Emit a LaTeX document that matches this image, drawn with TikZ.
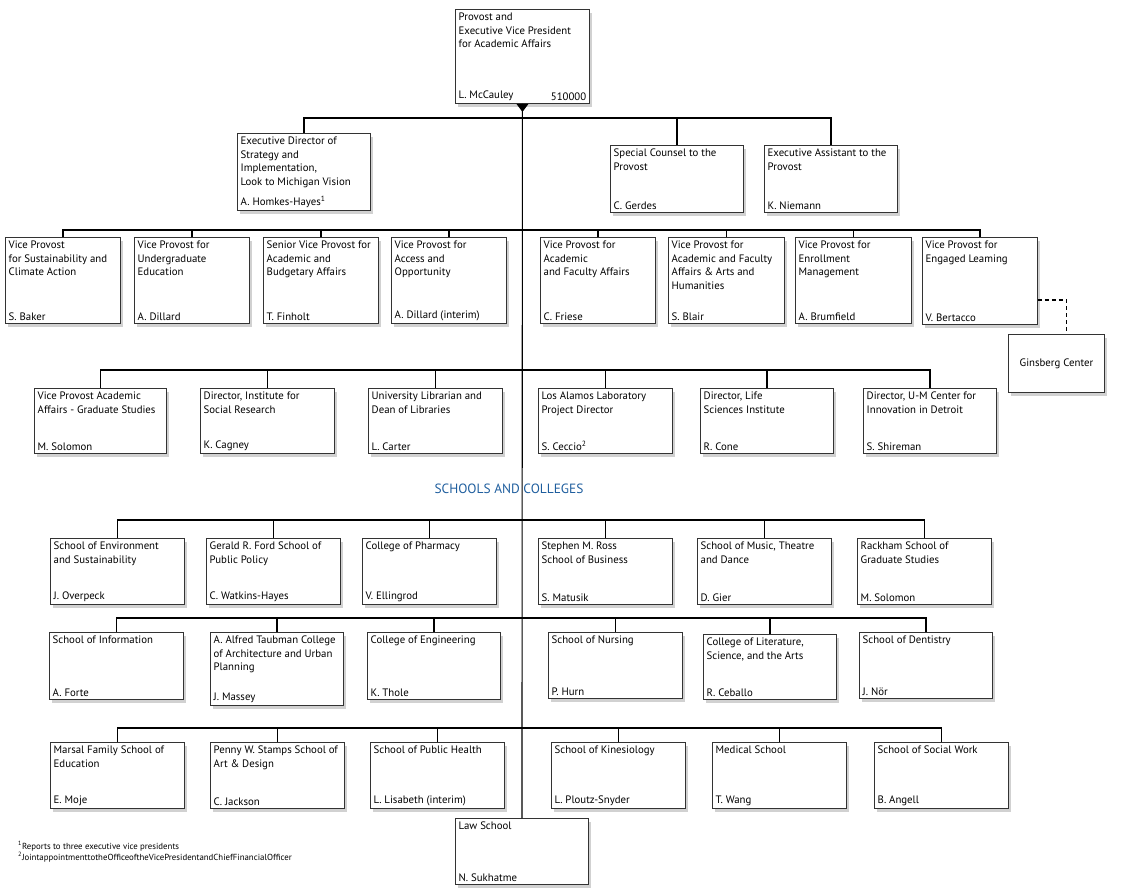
\documentclass[tikz,border=0pt]{standalone}
\usepackage{fontspec}
\setmainfont{PT Sans}
\usetikzlibrary{positioning,shadows}

\definecolor{ublue}{HTML}{1F5E9E}

\newcommand{\orgbox}[7]{%
  \node[unitbox, minimum width=#4, minimum height=#5, anchor=north west] (#1) at (#2,#3) {};
  \node[titletext, anchor=north west] (#1-t) at (#1.north west) {#6};
  \node[nametext, anchor=south west] (#1-n) at (#1.south west) {#7};
}

\begin{document}
\begin{tikzpicture}[x=1pt, y=-1pt,
    unitbox/.style={draw=black!80, line width=0.9pt, fill=white, inner sep=0pt,
      drop shadow={shadow xshift=3pt, shadow yshift=-4pt, fill=black!40, opacity=0.45}},
    titletext/.style={align=left, inner sep=3.5pt, font=\fontsize{10.8}{13.8}\selectfont},
    nametext/.style={inner xsep=3.5pt, inner ysep=3pt, font=\fontsize{10.8}{13.8}\selectfont},
    conn/.style={line width=1.1pt, black}]
\useasboundingbox (0,0) rectangle (1136,892);

\node[unitbox, minimum width=134, minimum height=94, anchor=north west] (top) at (455,9) {};
\node[titletext, anchor=north west] (top-t) at (top.north west) {Provost and\\Executive Vice President\\for Academic Affairs};
\node[nametext, anchor=south west] (top-n) at (top.south west) {L. McCauley};
\node[nametext, anchor=south east] (top-no) at (top.south east) {510000};

\orgbox{ed}{237}{133}{133}{77}{Executive Director of\\Strategy and\\Implementation,\\Look to Michigan Vision}{A. Homkes-Hayes\textsuperscript{1}}
\orgbox{sc}{610}{145}{133}{67}{Special Counsel to the\\Provost}{C. Gerdes}
\orgbox{ea}{764}{145}{133}{67}{Executive Assistant to the\\Provost}{K. Niemann}

\orgbox{vp1}{5}{237}{115}{86}{Vice Provost\\for Sustainability and\\Climate Action}{S. Baker}
\orgbox{vp2}{134}{237}{115}{86}{Vice Provost for\\Undergraduate\\Education}{A. Dillard}
\orgbox{vp3}{263}{237}{115}{86}{Senior Vice Provost for\\Academic and\\Budgetary Affairs}{T. Finholt}
\orgbox{vp4}{391}{237}{115}{86}{Vice Provost for\\Access and\\Opportunity}{A. Dillard (interim)}
\orgbox{vp5}{540}{237}{115}{86}{Vice Provost for\\Academic\\and Faculty Affairs}{C. Friese}
\orgbox{vp6}{668}{237}{116}{86}{Vice Provost for\\Academic and Faculty\\Affairs \& Arts and\\Humanities}{S. Blair}
\orgbox{vp7}{795}{237}{116}{86}{Vice Provost for\\Enrollment\\Management}{A. Brumfield}
\orgbox{vp8}{922}{237}{115}{87}{Vice Provost for\\Engaged Leaming}{V. Bertacco}
\node[unitbox, minimum width=96, minimum height=58, anchor=north west,
  font=\fontsize{10.8}{13.8}\selectfont] (gins) at (1008,334) {Ginsberg Center};

\orgbox{d1}{34}{388}{132}{65}{Vice Provost Academic\\Affairs - Graduate Studies}{M. Solomon}
\orgbox{d2}{200}{388}{134}{65}{Director, Institute for\\Social Research}{K. Cagney}
\orgbox{d3}{368}{388}{134}{65}{University Librarian and\\Dean of Libraries}{L. Carter}
\orgbox{d4}{538}{388}{134}{65}{Los Alamos Laboratory\\Project Director}{S. Ceccio\textsuperscript{2}}
\orgbox{d5}{700}{388}{133}{65}{Director, Life\\Sciences Institute}{R. Cone}
\orgbox{d6}{863}{388}{133}{65}{Director, U-M Center for\\Innovation in Detroit}{S. Shireman}

\node[font=\fontsize{13.4}{15}\selectfont, text=ublue] (schools) at (509,489) {SCHOOLS AND COLLEGES};

\orgbox{s1}{50}{538}{134}{66}{School of Environment\\and Sustainability}{J. Overpeck}
\orgbox{s2}{206}{538}{134}{66}{Gerald R. Ford School of\\Public Policy}{C. Watkins-Hayes}
\orgbox{s3}{362}{538}{134}{66}{College of Pharmacy}{V. Ellingrod}
\orgbox{s4}{538}{538}{134}{66}{Stephen M. Ross\\School of Business}{S. Matusik}
\orgbox{s5}{697}{538}{134}{66}{School of Music, Theatre\\and Dance}{D. Gier}
\orgbox{s6}{857}{538}{134}{66}{Rackham School of\\Graduate Studies}{M. Solomon}

\orgbox{s7}{49}{632}{134}{67}{School of Information}{A. Forte}
\orgbox{s8}{210}{632}{133}{73}{A. Alfred Taubman College\\of Architecture and Urban\\Planning}{J. Massey}
\orgbox{s9}{367}{632}{133}{67}{College of Engineering}{K. Thole}
\orgbox{s10}{548}{632}{134}{66}{School of Nursing}{P. Hurn}
\orgbox{s11}{703}{634}{133}{65}{College of Literature,\\Science, and the Arts}{R. Ceballo}
\orgbox{s12}{859}{632}{133}{66}{School of Dentistry}{J. Nör}

\orgbox{s13}{50}{742}{134}{66}{Marsal Family School of\\Education}{E. Moje}
\orgbox{s14}{210}{742}{134}{66}{Penny W. Stamps School of\\Art \& Design}{C. Jackson}
\orgbox{s15}{370}{742}{134}{66}{School of Public Health}{L. Lisabeth (interim)}
\orgbox{s16}{551}{742}{134}{66}{School of Kinesiology}{L. Ploutz-Snyder}
\orgbox{s17}{712}{742}{134}{66}{Medical School}{T. Wang}
\orgbox{s18}{874}{742}{134}{66}{School of Social Work}{B. Angell}

\orgbox{law}{455}{818}{133}{66}{Law School}{N. Sukhatme}

\coordinate (b1) at (522,118);
\coordinate (b2) at (522,230);
\coordinate (b3) at (522,370);
\coordinate (b4) at (522,520);
\coordinate (b5) at (522,618);
\coordinate (b6) at (522,728);

\draw[conn] (top.south) -- (law.north);
\fill (top.south) ++(-6,0) -- ++(12,0) -- ++(-6,8) -- cycle;
\foreach \n in {ed,sc,ea} \draw[conn] (b1) -| (\n.north);
\foreach \n in {vp1,vp2,vp3,vp4,vp5,vp6,vp7,vp8} \draw[conn] (b2) -| (\n.north);
\foreach \n in {d1,d2,d3,d4,d5,d6} \draw[conn] (b3) -| (\n.north);
\foreach \n in {s1,s2,s3,s4,s5,s6} \draw[conn] (b4) -| (\n.north);
\foreach \n in {s7,s8,s9,s10,s11,s12} \draw[conn] (b5) -| (\n.north);
\foreach \n in {s13,s14,s15,s16,s17,s18} \draw[conn] (b6) -| (\n.north);
\draw[conn, dash pattern=on 4pt off 3pt] ([yshift=-19pt]vp8.east) -| ([xshift=10pt]gins.north);

\node[anchor=north west, align=left, inner sep=0pt, font=\fontsize{8.8}{11}\selectfont] (notes) at (18,841)
  {\textsuperscript{1}Reports to three executive vice presidents\\
   \textsuperscript{2}JointappointmenttotheOfficeoftheVicePresidentandChiefFinancialOfficer};
\end{tikzpicture}
\end{document}
